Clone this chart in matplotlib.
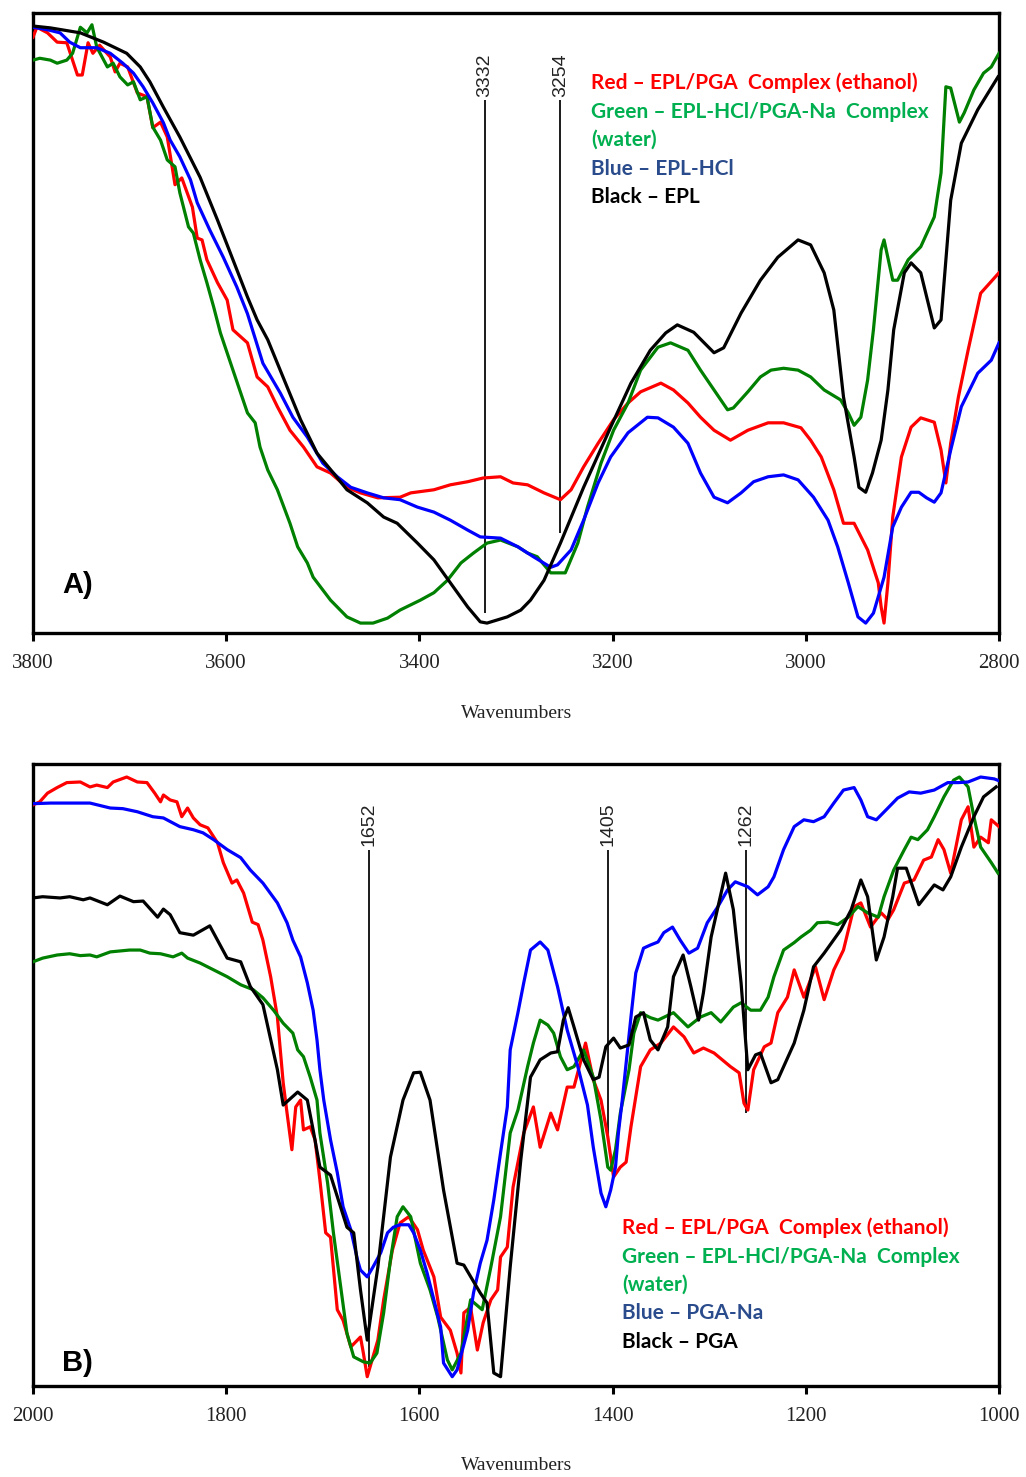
import matplotlib
matplotlib.use("Agg")
import matplotlib.pyplot as plt

# ---------------- Panel A data (wavenumber, transmittance a.u.) ----------------
a_black_w = [3800,3782,3751,3727,3703,3689,3679,3665,3648,3627,3609,3593,3578,3568,3557,3537,3523,3506,3489,3475,
             3454,3437,3423,3402,3385,3368,3350,3337,3330,3309,3295,3285,3271,3254,3230,3202,3181,3161,3145,3133,
             3116,3095,3085,3067,3047,3029,3008,2995,2981,2971,2961,2950,2945,2938,2931,2922,2915,2909,2898,2891,
             2881,2867,2860,2850,2839,2822,2801]
a_black_v = [97.9,97.6,96.8,95.3,93.5,91.3,88.9,84.8,80.0,73.5,66.6,60.2,54.2,50.5,47.3,39.7,34.4,29.0,25.8,23.1,
             21.0,18.7,17.7,14.5,11.8,8.1,4.2,1.8,1.6,2.6,3.7,5.3,8.5,14.5,23.5,33.2,40.3,45.6,48.4,49.7,
             48.5,45.2,46.0,51.6,56.9,60.6,63.4,62.6,58.1,52.1,38.1,28.4,23.5,22.7,25.8,31.1,39.2,48.9,58.1,59.7,
             58.1,49.2,50.5,69.8,79.0,84.4,89.7]

a_red_w = [3800,3796,3785,3775,3765,3754,3749,3743,3738,3731,3720,3715,3710,3702,3692,3682,3676,3668,3661,3653,
           3646,3635,3630,3625,3620,3609,3599,3593,3578,3568,3557,3547,3534,3520,3506,3492,3475,3461,3443,3420,
           3409,3385,3368,3350,3334,3316,3303,3288,3271,3254,3243,3230,3215,3199,3184,3171,3150,3137,3122,3109,
           3095,3078,3060,3039,3023,3005,2995,2984,2971,2961,2950,2936,2925,2922,2919,2915,2910,2901,2891,2881,
           2867,2860,2855,2850,2842,2832,2819,2800]
a_red_v = [96.1,97.7,96.8,95.3,95.2,90.0,90.0,95.2,93.5,94.8,92.9,90.5,91.9,91.3,87.1,86.5,81.5,82.4,80.0,72.3,
           73.4,68.7,63.7,63.4,60.2,56.5,53.7,48.9,46.8,41.3,39.7,36.5,32.7,30.0,26.8,25.8,23.5,22.6,21.8,21.9,
           22.6,23.1,23.9,24.4,25.0,25.2,24.2,23.9,22.6,21.5,23.1,26.8,30.6,34.4,37.1,38.9,40.3,39.2,37.1,34.8,
           32.7,31.1,32.7,33.9,33.9,33.1,31.1,28.4,23.1,17.7,17.7,13.4,8.1,4.2,1.6,8.1,18.7,28.4,33.2,34.7,
           34.0,29.5,24.2,30.6,38.1,45.6,54.8,58.1]

a_green_w = [3800,3793,3782,3775,3765,3759,3751,3744,3739,3734,3723,3717,3710,3702,3696,3689,3682,3676,3668,3661,
             3653,3648,3639,3634,3627,3620,3613,3606,3593,3578,3570,3565,3557,3547,3534,3526,3516,3510,3492,3475,
             3461,3448,3433,3420,3399,3385,3371,3357,3344,3330,3316,3298,3288,3278,3264,3249,3236,3226,3212,3199,
             3184,3171,3153,3140,3122,3109,3095,3081,3075,3060,3047,3036,3023,3008,2995,2981,2964,2956,2950,2943,
             2936,2930,2922,2919,2910,2905,2894,2881,2867,2860,2855,2850,2841,2836,2826,2816,2808,2800]
a_green_v = [92.4,92.7,92.4,91.9,92.4,93.5,97.7,96.8,98.1,94.5,91.3,91.9,89.7,88.4,88.9,86.0,86.5,81.6,79.5,76.3,
             75.2,71.0,65.5,64.5,60.2,56.5,52.6,48.4,42.4,35.5,33.9,30.0,26.3,23.1,17.7,13.9,11.3,9.0,5.3,2.6,
             1.6,1.6,2.4,3.7,5.3,6.5,8.5,11.3,12.9,14.5,15.0,13.9,12.9,12.3,9.7,9.7,14.5,20.3,27.4,32.7,
             37.1,42.4,46.1,46.8,45.6,42.4,39.2,36.0,36.3,38.9,41.3,42.4,42.7,42.4,41.3,39.2,37.6,35.5,33.5,34.8,
             40.8,48.9,61.8,63.4,56.9,56.9,60.2,62.3,67.1,74.2,88.1,87.9,82.4,83.9,87.6,90.3,91.3,93.5]

a_blue_w = [3800,3785,3772,3762,3751,3734,3720,3707,3696,3686,3676,3665,3658,3648,3637,3630,3617,3603,3589,3578,
            3562,3544,3531,3516,3500,3485,3471,3454,3437,3420,3402,3385,3368,3350,3337,3316,3298,3282,3264,3257,
            3243,3230,3215,3202,3184,3164,3153,3137,3122,3109,3095,3081,3067,3054,3039,3023,3008,2992,2977,2967,
            2956,2946,2938,2930,2919,2910,2901,2891,2883,2875,2867,2860,2850,2839,2822,2808,2800]
a_blue_v = [97.7,97.3,96.8,95.3,94.4,94.4,93.5,91.9,90.3,88.1,85.5,82.3,79.5,76.8,73.1,69.4,65.0,60.6,55.8,51.5,
            43.5,38.7,34.8,31.6,27.4,25.2,23.5,22.6,21.8,21.5,20.3,19.5,18.2,16.6,15.5,15.3,13.9,12.3,10.6,11.0,
            13.4,18.2,24.2,28.4,32.3,34.8,34.7,33.2,30.6,25.8,21.9,21.0,22.6,24.4,25.2,25.5,24.7,21.9,18.2,13.9,
            8.1,2.6,1.6,3.2,9.0,17.1,20.3,22.7,22.7,21.8,21.1,22.6,29.5,36.5,41.9,44.0,46.8]

a_peaks = [3332, 3254]
a_peak_bottom = [3.2, 16.1]
a_peak_top = [86.0, 86.0]
a_ticks = [3800, 3600, 3400, 3200, 3000, 2800]
a_legend = ["Red \u2013 EPL/PGA  Complex (ethanol)", "Green \u2013 EPL-HCl/PGA-Na  Complex", "(water)",
            "Blue \u2013 EPL-HCl", "Black \u2013 EPL"]

# ---------------- Panel B data ----------------
b_black_w = [2000,1990,1972,1962,1948,1941,1923,1910,1896,1886,1871,1865,1858,1848,1834,1817,1799,1785,1775,1762,
             1747,1741,1726,1716,1710,1703,1692,1675,1668,1661,1654,1643,1630,1617,1606,1599,1589,1575,1561,1554,
             1537,1530,1523,1516,1506,1495,1485,1475,1464,1457,1451,1446,1440,1430,1420,1414,1407,1399,1392,1383,
             1376,1368,1361,1353,1343,1337,1327,1319,1311,1306,1298,1283,1275,1267,1260,1252,1247,1236,1229,1212,
             1202,1192,1181,1164,1153,1143,1136,1127,1119,1110,1105,1096,1083,1067,1058,1050,1039,1026,1016,1003]
b_black_v = [78.7,78.9,78.7,78.9,78.4,78.7,77.6,79.0,78.1,78.2,75.6,76.9,76.0,73.1,72.7,74.2,69.0,68.4,64.4,61.5,
             51.0,45.3,47.4,46.1,41.3,35.3,34.0,25.6,24.7,15.5,7.4,19.2,36.9,46.1,50.5,50.6,46.1,31.6,19.8,19.5,
             15.0,13.4,2.1,1.5,19.2,36.5,49.8,52.6,53.7,53.9,59.0,61.0,57.9,52.6,49.4,49.8,54.7,56.1,54.5,55.0,
             59.5,60.2,55.8,54.2,57.9,66.0,69.5,64.4,59.0,63.4,72.4,82.7,76.8,65.0,51.0,53.4,53.7,48.9,49.4,55.3,
             60.6,67.6,69.8,73.5,76.8,81.6,78.9,68.7,72.4,78.9,83.5,83.5,77.6,80.8,80.0,82.1,86.9,91.8,95.0,96.6]

b_red_w = [2000,1993,1985,1975,1965,1951,1941,1934,1923,1917,1903,1892,1882,1874,1868,1865,1858,1851,1846,1840,
           1834,1827,1819,1809,1803,1794,1789,1782,1773,1767,1762,1754,1747,1741,1737,1732,1728,1723,1720,1713,
           1708,1703,1697,1692,1685,1679,1671,1661,1658,1654,1643,1637,1628,1620,1611,1602,1596,1585,1578,1568,
           1561,1557,1554,1547,1540,1534,1526,1519,1516,1509,1503,1492,1482,1475,1464,1457,1447,1440,1428,1420,
           1412,1405,1399,1392,1386,1381,1371,1361,1350,1337,1326,1316,1306,1295,1278,1269,1264,1260,1254,1243,
           1236,1229,1219,1212,1202,1190,1181,1171,1161,1150,1143,1133,1122,1115,1109,1098,1088,1078,1070,1063,
           1057,1050,1039,1032,1026,1019,1011,1008,1000]
b_red_v = [93.7,94.2,95.6,96.5,97.3,97.4,96.6,96.9,96.5,97.4,98.2,97.4,97.3,95.6,94.2,95.3,94.5,94.2,91.8,93.2,
           91.6,90.5,90.0,87.6,84.4,81.1,81.6,79.5,74.8,74.4,71.9,66.0,59.5,48.9,44.0,38.1,45.0,46.1,41.3,41.8,
           39.7,33.2,24.7,24.0,12.3,10.6,6.3,7.9,5.3,1.5,7.4,13.9,21.9,26.3,27.3,25.2,21.9,17.6,11.1,9.0,
           5.3,2.1,11.8,12.7,5.8,10.2,13.9,15.5,20.8,22.4,32.1,40.8,45.0,38.5,44.0,41.3,48.2,48.2,55.3,49.4,
           46.1,40.2,33.7,35.3,36.1,41.8,51.5,54.2,55.3,57.9,56.3,53.7,54.5,53.7,51.5,50.5,45.6,44.5,51.0,54.7,
           55.3,60.2,62.7,67.1,62.7,67.6,62.3,67.1,70.3,77.3,77.9,74.0,76.3,75.2,76.8,81.1,81.6,84.8,85.3,88.1,
           86.5,82.7,91.3,93.4,86.9,88.5,87.6,91.3,90.2]

b_green_w = [2000,1990,1975,1962,1951,1941,1934,1920,1900,1889,1879,1868,1855,1846,1840,1827,1813,1799,1785,1772,
             1762,1751,1741,1731,1726,1720,1713,1706,1703,1695,1689,1682,1675,1668,1658,1651,1644,1637,1630,1623,
             1617,1609,1599,1589,1581,1571,1566,1557,1547,1535,1526,1516,1506,1498,1488,1482,1475,1467,1461,1454,
             1447,1440,1430,1420,1412,1405,1402,1397,1392,1383,1378,1371,1361,1353,1337,1322,1309,1298,1288,1275,
             1267,1257,1247,1239,1233,1223,1212,1205,1195,1188,1177,1167,1156,1146,1136,1125,1119,1109,1098,1091,
             1084,1074,1067,1057,1047,1041,1032,1026,1019,1008,1001]
b_green_v = [68.4,69.0,69.5,69.7,69.4,69.5,69.2,70.0,70.3,70.3,69.8,69.7,69.2,69.8,69.0,68.2,67.1,66.0,64.7,63.9,
             62.6,60.6,58.5,56.9,54.2,53.1,49.8,46.1,40.8,32.7,24.7,16.6,8.5,4.7,3.9,3.7,5.3,11.8,20.3,27.3,
             28.9,27.3,19.8,15.5,11.1,4.2,2.6,5.3,13.9,12.3,19.2,27.3,40.8,44.5,51.5,55.3,59.0,58.2,56.9,53.1,
             51.0,51.5,54.2,49.8,42.9,35.3,34.8,38.1,44.0,51.0,56.9,60.2,59.4,59.0,60.2,57.9,59.5,60.2,58.7,61.1,
             61.8,60.6,60.6,62.7,66.0,70.3,71.5,72.4,73.5,74.7,74.8,74.4,75.6,77.3,76.3,75.6,78.9,83.2,86.5,88.5,
             88.1,89.7,91.8,95.0,97.7,98.2,96.6,91.8,86.9,84.4,82.7]

b_blue_w = [2000,1982,1965,1941,1920,1907,1892,1876,1865,1848,1834,1824,1813,1799,1785,1775,1762,1747,1737,1731,
            1723,1716,1710,1706,1703,1699,1692,1685,1679,1671,1664,1661,1654,1648,1640,1633,1627,1620,1611,1606,
            1599,1592,1585,1578,1575,1566,1561,1550,1544,1537,1530,1523,1516,1509,1506,1498,1492,1485,1475,1467,
            1457,1447,1436,1426,1420,1412,1407,1402,1397,1394,1390,1381,1376,1368,1361,1353,1347,1338,1330,1321,
            1312,1302,1291,1281,1273,1260,1250,1239,1233,1223,1212,1202,1192,1181,1171,1161,1150,1143,1136,1127,
            1115,1105,1093,1081,1067,1053,1042,1032,1019,1005,1000]
b_blue_v = [93.9,94.0,94.0,94.0,93.2,93.1,92.6,91.8,91.6,90.2,89.7,89.2,88.1,86.5,85.2,83.2,81.1,77.9,74.7,71.9,
            69.2,65.0,60.6,55.8,51.0,46.1,39.7,34.4,28.9,25.2,20.3,18.7,17.6,19.2,21.5,24.7,25.6,26.0,26.0,24.7,
            21.9,18.2,13.9,9.5,3.7,1.5,2.6,9.0,15.0,19.8,23.5,30.0,37.6,45.0,54.2,60.2,65.0,70.3,71.6,70.3,
            64.4,57.4,51.5,45.3,38.5,31.1,28.9,31.6,35.3,40.8,46.1,59.5,66.6,70.6,71.1,71.6,73.1,74.0,71.9,69.8,
            70.6,74.7,77.3,80.0,81.3,80.5,79.2,80.5,82.1,86.5,90.2,91.3,91.0,91.8,94.0,96.1,96.5,94.5,91.8,91.3,
            93.2,94.8,95.8,95.6,96.1,97.3,97.3,97.4,98.2,97.9,97.6]

b_peaks = [1652, 1405, 1262]
b_peak_bottom = [3.1, 40.0, 44.0]
b_peak_top = [86.5, 86.5, 86.5]
b_ticks = [2000, 1800, 1600, 1400, 1200, 1000]
b_legend = ["Red \u2013 EPL/PGA  Complex (ethanol)", "Green \u2013 EPL-HCl/PGA-Na  Complex", "(water)",
            "Blue \u2013 PGA-Na", "Black \u2013 PGA"]

# ---------------- styling ----------------
line_colors = {"red": "#ff0000", "green": "#008000", "blue": "#0000ff", "black": "#000000"}
legend_colors = ["#ff0000", "#00b050", "#00b050", "#2b4c8c", "#000000"]
W, H = 1026, 1477

fig = plt.figure(figsize=(W / 100, H / 100), dpi=100)
fig.patch.set_facecolor("white")


def make_panel(rect, xlim, ticks, ylim, series, peaks, pbot, ptop, legend, leg_x, leg_y, tag, tag_y, lab_y):
    ax = fig.add_axes(rect)
    for w, v, c in series:
        ax.plot(w, v, color=line_colors[c], lw=2.3, solid_joinstyle="round", zorder=3)
    ax.vlines(peaks, pbot, ptop, color="#1a1a1a", lw=1.4, zorder=2)
    for p, t in zip(peaks, ptop):
        ax.text(p, t + 0.5, str(p), rotation=90, ha="center", va="bottom",
                family=["Liberation Sans", "DejaVu Sans"], fontsize=14, color="#222222")
    ax.set_xlim(*xlim)
    ax.set_ylim(*ylim)
    ax.set_yticks([])
    ax.set_xticks(ticks)
    ax.set_xticklabels([str(t) for t in ticks], family=["Liberation Serif", "DejaVu Serif"],
                       fontsize=15, color="#222222")
    ax.tick_params(axis="x", direction="out", length=6, width=2.2, pad=9, color="black")
    for s in ax.spines.values():
        s.set_linewidth(2.4)
        s.set_color("black")
    for i, (txt, col) in enumerate(zip(legend, legend_colors)):
        fig.text(leg_x / W, 1 - leg_y[i] / H, txt, color=col, ha="left", va="center",
                 family=["Lato", "DejaVu Sans"], fontweight="bold", fontsize=15)
    fig.text(62 / W, 1 - tag_y / H, tag, ha="left", va="center", family=["Liberation Sans", "DejaVu Sans"],
             fontweight="bold", fontsize=21, color="black")
    fig.text(517 / W, 1 - lab_y / H, "Wavenumbers", ha="center", va="center",
             family=["Liberation Serif", "DejaVu Serif"], fontsize=14, color="#222222")
    return ax


make_panel([33 / W, 1 - 633 / H, 966 / W, 620 / H], (3800, 2800), a_ticks, (0, 100),
           [(a_red_w, a_red_v, "red"), (a_green_w, a_green_v, "green"),
            (a_blue_w, a_blue_v, "blue"), (a_black_w, a_black_v, "black")],
           a_peaks, a_peak_bottom, a_peak_top, a_legend, 591, [83, 112, 140, 169, 197], "A)", 585, 714)

make_panel([33 / W, 1 - 1386 / H, 966 / W, 622 / H], (2000, 1000), b_ticks, (0, 100.3),
           [(b_red_w, b_red_v, "red"), (b_green_w, b_green_v, "green"),
            (b_blue_w, b_blue_v, "blue"), (b_black_w, b_black_v, "black")],
           b_peaks, b_peak_bottom, b_peak_top, b_legend, 622, [1228, 1257, 1285, 1313, 1342], "B)", 1363, 1466)

fig.savefig("out.png", dpi=100, facecolor="white")
